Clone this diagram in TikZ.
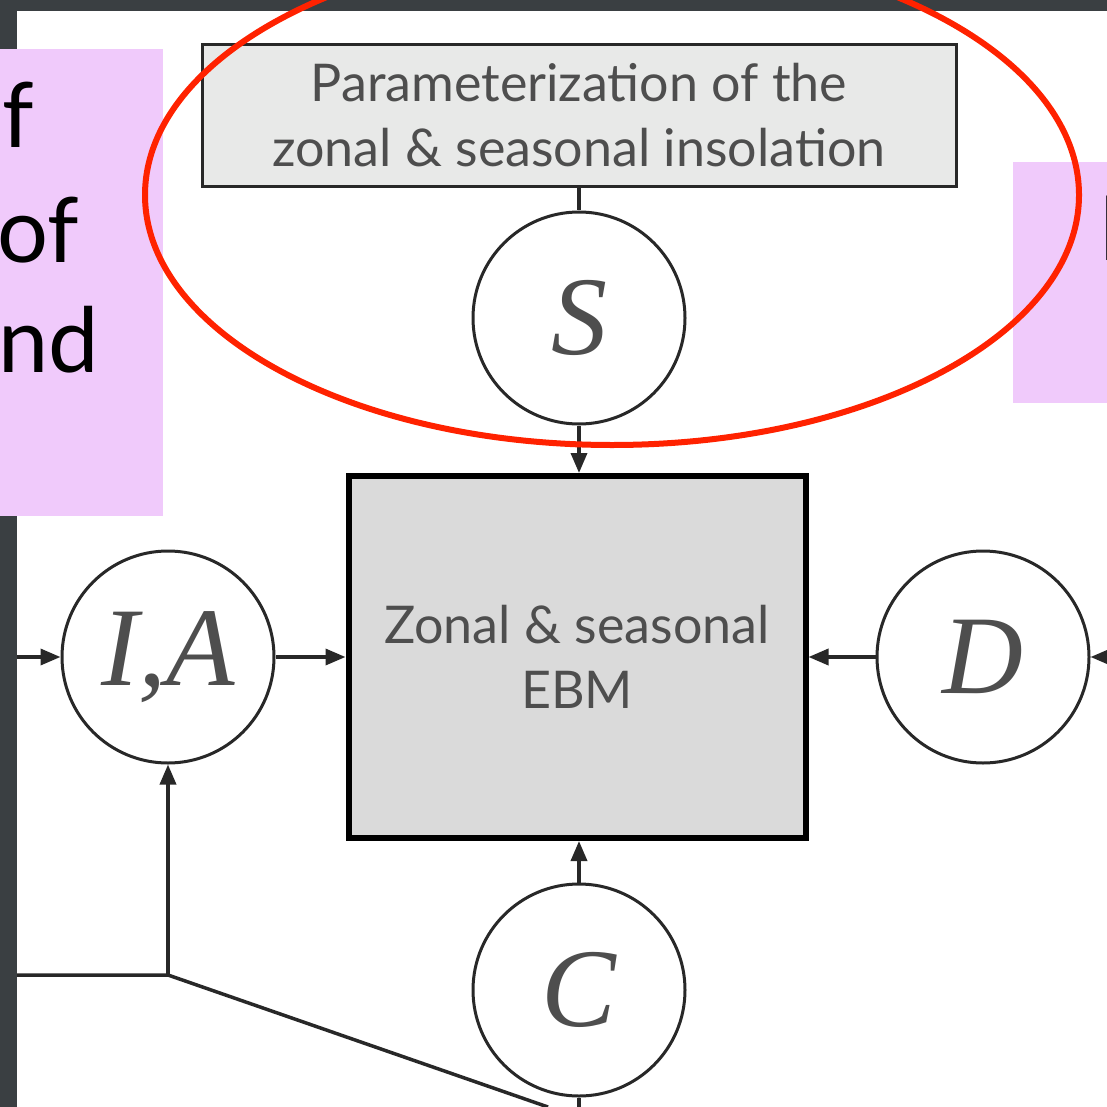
\documentclass[tikz,border=0pt]{standalone}
\usepackage{fontspec}
\setmainfont{Lato}
\newfontfamily\italfont{Liberation Serif}
\usetikzlibrary{arrows.meta}
\definecolor{bgdark}{RGB}{58,63,66}
\definecolor{pinkbox}{RGB}{240,202,251}
\definecolor{boxgray}{RGB}{232,233,232}
\definecolor{maingray}{RGB}{218,218,218}
\definecolor{inkgray}{RGB}{78,78,78}
\definecolor{linegray}{RGB}{40,40,40}
\definecolor{ellred}{RGB}{255,34,0}
\tikzset{
  circ/.style={circle, draw=linegray, line width=3pt, fill=white,
    minimum size=212pt, inner sep=0pt, text=inkgray,
    font=\fontsize{112}{112}\selectfont\italfont\itshape},
  conn/.style={draw=linegray, line width=3.5pt},
  arr/.style={conn, -{Triangle[length=20pt,width=16pt]}},
  boxtext/.style={text=inkgray, align=center, font=\fontsize{52}{65}\selectfont},
  pinktext/.style={text=black, inner sep=0pt, font=\fontsize{90}{112}\selectfont}
}
\begin{document}
\begin{tikzpicture}[x=1pt,y=-1pt]
\useasboundingbox (0,0) rectangle (1107,1107);
\clip (0,0) rectangle (1107,1107);
% background
\fill[bgdark] (0,0) rectangle (1107,1107);
\fill[white] (17,11) rectangle (1107,1107);
% boxes
\node[boxtext, draw=linegray, line width=3pt, fill=boxgray,
      minimum width=754pt, minimum height=142pt, inner sep=0pt]
      (top) at (579,115.5) {Parameterization of the\\zonal \& seasonal insolation};
\node[boxtext, draw=black, line width=6pt, fill=maingray,
      minimum width=457pt, minimum height=362pt, inner sep=0pt]
      (main) at (577,657) {Zonal \& seasonal\\EBM};
% circles
\node[circ] (S) at (579,318) {S};
\node[circ] (IA) at (168,657) {I,A};
\node[circ] (D) at (983,657) {D};
\node[circ] (C) at (579,990) {C};
% free ends
\coordinate (lin) at (17,657);
\coordinate (rin) at (1107,657);
\coordinate (cout) at (579,1107);
\coordinate (hl) at (17,975);
\coordinate (corner) at (168,975);
\coordinate (diag) at (548,1107);
% connectors
\draw[conn] (top.south) -- (S.north);
\draw[arr] (S.south) -- (S.south |- main.north);
\draw[arr] (IA.east) -- (main.west);
\draw[arr] (D.west) -- (main.east);
\draw[arr] (C.north) -- (C.north |- main.south);
\draw[arr] (lin) -- (IA.west);
\draw[arr] (rin) -- (D.east);
\draw[conn] (C.south) -- (cout);
\draw[conn] (hl) -- (corner) -- (diag);
\draw[arr] (corner) -- (IA.south);
% pink overlays
\fill[pinkbox] (0,49) rectangle (163,516);
\fill[pinkbox] (1013,162) rectangle (1107,403);
\node[pinktext, anchor=base west] (t1) at (2,148) {f};
\node[pinktext, anchor=base west] (t2) at (-3,262) {of};
\node[pinktext, anchor=base west] (t3) at (-2,372) {nd};
\node[pinktext, anchor=base west] (t4) at (1098,260) {I};
% red ellipse
\draw[ellred, line width=6pt] (612,195) ellipse [x radius=467pt, y radius=250pt];
\end{tikzpicture}
\end{document}
